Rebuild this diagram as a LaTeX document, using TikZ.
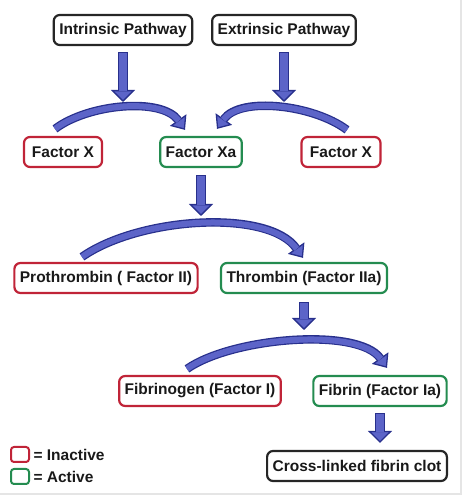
\documentclass[tikz,border=0pt]{standalone}
\usepackage{fontspec}
\setmainfont{Liberation Sans}
\usetikzlibrary{arrows.meta,positioning}

\definecolor{arrowfill}{RGB}{92,100,200}
\definecolor{arrowline}{RGB}{40,48,140}
\definecolor{inact}{RGB}{192,36,56}
\definecolor{act}{RGB}{36,140,80}

\begin{document}
\begin{tikzpicture}[x=1pt,y=1pt,
  box/.style={draw, line width=2.2pt, rounded corners=6pt, minimum height=30pt,
    inner xsep=5.5pt, font=\fontsize{15.5}{18}\selectfont\bfseries, text=black!90},
  inactive/.style={box, draw=inact},
  active/.style={box, draw=act},
  neutral/.style={box, draw=black!85},
  blockarrow/.style={draw=arrowline, line width=10pt,
    -{Triangle[width=24pt,length=12pt,fill=arrowfill,line width=1.3pt]},
    postaction={draw=arrowfill, line width=7.4pt, arrows=-, shorten >=11pt, shorten <=1.3pt}},
  bendarrow/.style={draw=arrowline, line width=8.5pt,
    -{Triangle[width=20pt,length=12pt,fill=arrowfill,line width=1.3pt]},
    postaction={draw=arrowfill, line width=6pt, arrows=-, shorten >=11pt}}]
  \def\gap{6}

  \useasboundingbox (0,0) rectangle (464,496);
  \draw [gray!20, line width=2.5pt] (0,2) -- (461,2) -- (461,496);

  %% pathways
  \node [neutral] (intr) at (123,466) {Intrinsic Pathway};
  \node [neutral] (extr) at (284,466) {Extrinsic Pathway};

  %% factor X
  \node [inactive, minimum width=78pt] (fxl) at (63,344) {Factor X};
  \node [active, minimum width=78pt] (fxa) at (201,344) {Factor Xa};
  \node [inactive, minimum width=79pt] (fxr) at (341,344) {Factor X};

  %% thrombin
  \node [inactive] (proth) at (106,218) {Prothrombin ( Factor II)};
  \node [active] (thromb) at (304,218) {Thrombin (Factor IIa)};

  %% fibrin
  \node [inactive] (fibgen) at (200,105) {Fibrinogen (Factor I)};
  \node [active] (fibrin) at (380,105) {Fibrin (Factor Ia)};
  \node [neutral] (clot) at (357,30) {Cross-linked fibrin clot};

  %% arrow ends on the bends
  \coordinate (meetL) at (intr.south |- 0,394);
  \coordinate (meetR) at (extr.south |- 0,394);
  \coordinate (meetXa) at (fxa.south |- 0,280);
  \coordinate (meetTh) at (thromb.south |- 0,166);

  \draw [blockarrow] ([yshift=-\gap]intr.south) -- (meetL);
  \draw [blockarrow] ([yshift=-\gap]extr.south) -- (meetR);
  \draw [blockarrow] ([yshift=-7]fxa.south) -- (meetXa);
  \draw [blockarrow] ([yshift=-8]thromb.south) -- (meetTh);
  \draw [blockarrow] ([yshift=-\gap]fibrin.south) -- ([yshift=7]fibrin.south |- clot.north);

  \draw [bendarrow] ([xshift=-8,yshift=7]fxl.north) .. controls +(37:42) and +(125:40) .. ([xshift=-16,yshift=6]fxa.north);
  \draw [bendarrow] ([xshift=6,yshift=6]fxr.north) .. controls +(143:42) and +(55:40) .. ([xshift=16,yshift=7]fxa.north);
  \draw [bendarrow] ([xshift=-24,yshift=5]proth.north) .. controls +(35:70) and +(125:60) .. ([xshift=-1,yshift=4]thromb.north);
  \draw [bendarrow] ([xshift=-13,yshift=6]fibgen.north) .. controls +(35:55) and +(125:50) .. ([xshift=7,yshift=7]fibrin.north);

  %% legend
  \foreach \col/\txt/\y in {inact/Inactive/41.5, act/Active/19.5}
  \node [draw=\col, line width=2pt, rounded corners=3pt, minimum width=18pt, minimum height=15pt] (key\txt) at (20,\y) {}
  node [right=0pt of key\txt, font=\fontsize{15.5}{18}\selectfont\bfseries, text=black!90] {= \txt};

\end{tikzpicture}
\end{document}
